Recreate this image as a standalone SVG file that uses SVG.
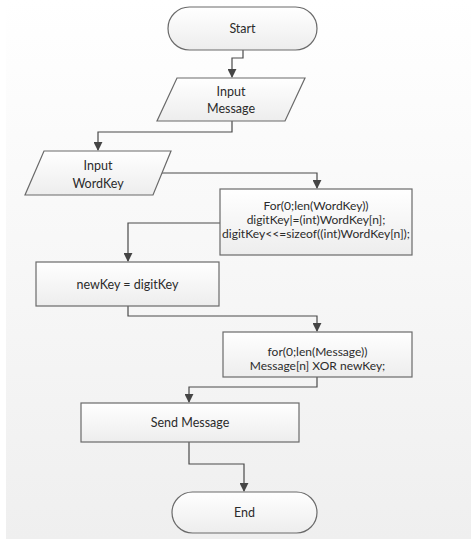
<svg xmlns="http://www.w3.org/2000/svg" width="471" height="539" viewBox="0 0 471 539">
<defs>
<linearGradient id="bg" x1="0" y1="0" x2="0" y2="1">
<stop offset="0" stop-color="#ffffff"/>
<stop offset="1" stop-color="#efefef"/>
</linearGradient>
<linearGradient id="nf" x1="0" y1="0" x2="0" y2="1">
<stop offset="0" stop-color="#ffffff"/>
<stop offset="1" stop-color="#ededed"/>
</linearGradient>
<marker id="ar" viewBox="0 0 10 10" refX="9" refY="5" markerWidth="9" markerHeight="9" markerUnits="userSpaceOnUse" orient="auto">
<path d="M0,0 L10,5 L0,10 z" fill="#454545"/>
</marker>
</defs>
<style>
.n{fill:url(#nf);stroke:#6a6a6a;stroke-width:1.2}
.t{font-family:Lato,"Open Sans","Liberation Sans",sans-serif;font-size:12.5px;fill:#2b2b2b;text-anchor:middle}
.k{font-size:12px}
.c{fill:none;stroke:#4a4a4a;stroke-width:1.2;marker-end:url(#ar)}
</style>
<rect x="0" y="0" width="471" height="539" fill="#ffffff"/>
<rect x="6" y="0" width="465" height="539" fill="url(#bg)"/>
<g id="connectors">
<path class="c" d="M243,50 V58 H232 V77"/>
<path class="c" d="M232,121 V132 H98 V150"/>
<path class="c" d="M162,173 H317 V188"/>
<path class="c" d="M220,223 H128 V261"/>
<path class="c" d="M128,306 V316 H317 V331"/>
<path class="c" d="M317,377 V387 H189 V402"/>
<path class="c" d="M189,442 V464 H244 V491"/>
</g>
<g id="start">
<rect class="n" x="168" y="7" width="149" height="43" rx="21.5"/>
<text class="t" x="242.5" y="32.5">Start</text>
</g>
<g id="inputMessage">
<polygon class="n" points="177,78 305,78 285,121 157,121"/>
<text class="t" x="231" y="95.5">Input</text>
<text class="t" x="231" y="112.5">Message</text>
</g>
<g id="inputWordKey">
<polygon class="n" points="44,151 171,151 153,195 25,195"/>
<text class="t" x="98" y="169.5">Input</text>
<text class="t" x="98" y="188">WordKey</text>
</g>
<g id="forWordKey">
<rect class="n" x="220" y="189" width="192" height="66"/>
<text class="t k" x="316" y="210">For(0;len(WordKey))</text>
<text class="t k" x="316" y="224">digitKey|=(int)WordKey[n];</text>
<text class="t k" x="316" y="238" textLength="188" lengthAdjust="spacingAndGlyphs">digitKey&lt;&lt;=sizeof((int)WordKey[n]);</text>
</g>
<g id="newKey">
<rect class="n" x="36" y="262" width="183" height="44"/>
<text class="t" x="127.5" y="288.5">newKey = digitKey</text>
</g>
<g id="forMessage">
<rect class="n" x="223" y="332" width="189" height="45"/>
<text class="t k" x="317.5" y="355.5">for(0;len(Message))</text>
<text class="t k" x="317.5" y="369.5">Message[n] XOR newKey;</text>
</g>
<g id="sendMessage">
<rect class="n" x="81" y="403" width="218" height="39"/>
<text class="t" x="190" y="426.5">Send Message</text>
</g>
<g id="end">
<rect class="n" x="172" y="492" width="145" height="41" rx="20.5"/>
<text class="t" x="244.5" y="516.5">End</text>
</g>
</svg>
